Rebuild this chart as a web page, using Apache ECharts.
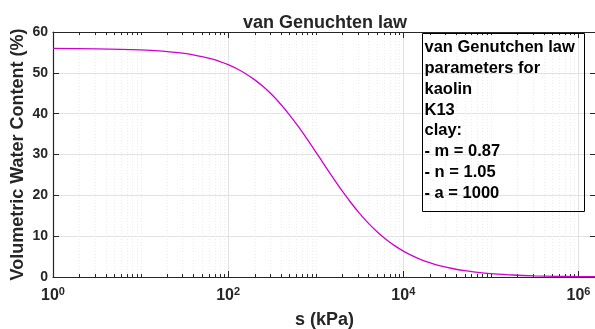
<!DOCTYPE html>
<html>
<head>
<meta charset="utf-8">
<script src="https://cdn.jsdelivr.net/npm/echarts@6/dist/echarts.min.js"></script>
<style>
  html, body { margin: 0; padding: 0; background: #fff; }
  #chart { width: 595px; height: 329px; }
</style>
</head>
<body>
<div id="chart"></div>
<script>
// Suction s (kPa) and volumetric water content (%) of the retention curve
const suction = [
  1, 3.162, 10, 17.78, 31.62, 39.81, 50.12, 63.10, 79.43,
  100, 125.9, 158.5, 199.5, 251.2, 316.2, 398.1, 501.2, 631.0, 794.3,
  1000, 1259, 1585, 1995, 2512, 3162, 3981, 5012, 6310, 7943,
  10000, 12589, 15849, 19953, 25119, 31623, 39811, 50119, 63096, 79433,
  100000, 177828, 316228, 562341, 1000000, 1584893
];
const waterContent = [
  55.97, 55.88, 55.62, 55.30, 54.74, 54.40, 53.98, 53.45, 52.80,
  51.99, 51.00, 49.79, 48.34, 46.63, 44.62, 42.31, 39.72, 36.87, 33.82,
  30.64, 27.41, 24.21, 21.13, 18.24, 15.59, 13.20, 11.09, 9.26, 7.68,
  6.35, 5.22, 4.28, 3.51, 2.86, 2.33, 1.90, 1.55, 1.26, 1.02,
  0.83, 0.49, 0.29, 0.17, 0.10, 0.07
];

// Axis ranges and tick labels
const xMin = 1, xMax = 1584893;
const yMin = 0, yMax = 60, yStep = 10;
const yTickLabels = ['0', '10', '20', '30', '40', '50', '60'];
const xTickExponents = [0, 2, 4, 6];

const titleText = 'van Genuchten law';
const xName = 's (kPa)';
const yName = 'Volumetric Water Content (%)';
const noteLines = [
  'van Genutchen law',
  'parameters for',
  'kaolin',
  'K13',
  'clay:',
  '- m = 0.87',
  '- n = 1.05',
  '- a = 1000'
];

const FONT = '"Liberation Sans", Arial, Helvetica, sans-serif';
const INK = '#262626';

// Log-axis minor ticks: 1..9 x 10^k, skipping the labelled decades
const minorTicks = [];
for (let k = 0; k <= 6; k++) {
  for (let m = 1; m <= 9; m++) {
    const v = m * Math.pow(10, k);
    if (m === 1 && xTickExponents.indexOf(k) >= 0) continue;
    if (v > xMin && v < xMax) minorTicks.push([v, 0]);
  }
}

const chart = echarts.init(document.getElementById('chart'), null, { renderer: 'canvas' });

const curve = suction.map((s, i) => [s, waterContent[i]]);

chart.setOption({
  animation: false,
  backgroundColor: '#ffffff',
  textStyle: { fontFamily: FONT },
  grid: { left: 53, top: 32, right: -1, bottom: 52, containLabel: false, outerBoundsMode: 'none' },
  xAxis: [
    {
      type: 'log', logBase: 100, min: xMin, max: xMax,
      position: 'bottom',
      name: xName, nameLocation: 'middle', nameGap: 34,
      nameTextStyle: { color: INK, fontSize: 18, fontWeight: 'bold', fontFamily: FONT },
      axisLine: { show: true, onZero: false, lineStyle: { color: INK, width: 1.2 } },
      axisTick: { show: true, inside: true, length: 6, lineStyle: { color: INK } },
      splitLine: { show: true, lineStyle: { color: '#e2e2e2', width: 1 } },
      minorTick: { show: false },
      axisLabel: {
        show: true, margin: 9, showMaxLabel: false,
        color: INK,
        formatter: v => {
          const e = Math.round(Math.log10(v));
          return '{b|10}{s|' + e + '}';
        },
        rich: {
          b: { fontSize: 16, fontWeight: 'bold', color: INK, fontFamily: FONT },
          s: { fontSize: 11, fontWeight: 'bold', color: INK, fontFamily: FONT, verticalAlign: 'bottom', padding: [0, 0, 8, 0] }
        }
      }
    },
    {
      type: 'log', logBase: 100, min: xMin, max: xMax,
      position: 'top',
      axisLine: { show: true, onZero: false, lineStyle: { color: INK, width: 1.2 } },
      axisTick: { show: true, inside: true, length: 6, lineStyle: { color: INK } },
      axisLabel: { show: false },
      splitLine: { show: false }
    }
  ],
  yAxis: [
    {
      type: 'value', min: yMin, max: yMax, interval: yStep,
      position: 'left',
      name: yName, nameLocation: 'middle', nameGap: 26, nameMoveOverlap: false,
      nameTextStyle: { color: INK, fontSize: 18, fontWeight: 'bold', fontFamily: FONT },
      axisLine: { show: true, lineStyle: { color: INK, width: 1.2 } },
      axisTick: { show: true, inside: true, length: 6, lineStyle: { color: INK } },
      splitLine: { show: true, lineStyle: { color: '#e2e2e2', width: 1 } },
      axisLabel: {
        show: true, margin: 5, color: INK, fontSize: 14, fontWeight: 'bold', fontFamily: FONT,
        formatter: v => yTickLabels[Math.round((v - yMin) / yStep)]
      }
    },
    {
      type: 'value', min: yMin, max: yMax, interval: yStep,
      position: 'right',
      axisLine: { show: true, lineStyle: { color: INK, width: 1.2 } },
      axisTick: { show: true, inside: true, length: 6, lineStyle: { color: INK } },
      axisLabel: { show: false },
      splitLine: { show: false }
    }
  ],
  series: [
    {
      // minor grid lines and minor ticks on the log axis
      type: 'custom',
      xAxisIndex: 0, yAxisIndex: 0,
      silent: true,
      z: 1,
      data: minorTicks,
      encode: { x: 0, y: 1 },
      renderItem: (params, api) => {
        const x = Math.round(api.coord([api.value(0), 0])[0]) + 0.5;
        const cs = params.coordSys;
        const top = cs.y, bottom = cs.y + cs.height;
        return {
          type: 'group',
          children: [
            { type: 'line', shape: { x1: x, y1: top, x2: x, y2: bottom },
              style: { stroke: '#ededed', lineWidth: 1, lineDash: [1, 2] } },
            { type: 'line', shape: { x1: x, y1: bottom, x2: x, y2: bottom - 3 },
              style: { stroke: INK, lineWidth: 1 } },
            { type: 'line', shape: { x1: x, y1: top, x2: x, y2: top + 3 },
              style: { stroke: INK, lineWidth: 1 } }
          ]
        };
      }
    },
    {
      type: 'line',
      xAxisIndex: 0, yAxisIndex: 0,
      data: curve,
      showSymbol: false,
      smooth: 0.3,
      z: 3,
      lineStyle: { color: '#d000d0', width: 1.3 }
    }
  ],
  graphic: [
    {
      type: 'text', silent: true,
      x: 325, y: 23,
      style: {
        text: titleText, fill: INK, fontSize: 18, fontWeight: 'bold', fontFamily: FONT,
        textAlign: 'center', textVerticalAlign: 'middle'
      }
    },
    {
      type: 'rect', silent: true, z: 10,
      shape: { x: 422.5, y: 33.5, width: 162, height: 178 },
      style: { fill: 'transparent', stroke: '#000000', lineWidth: 1 }
    },
    {
      type: 'text', silent: true, z: 11,
      x: 424.5, y: 37.3,
      style: {
        text: noteLines.join('\n'), fill: '#000000', fontSize: 16.5, fontWeight: 'bold',
        fontFamily: FONT, lineHeight: 20.8, textAlign: 'left', textVerticalAlign: 'top'
      }
    }
  ]
});
</script>
</body>
</html>
